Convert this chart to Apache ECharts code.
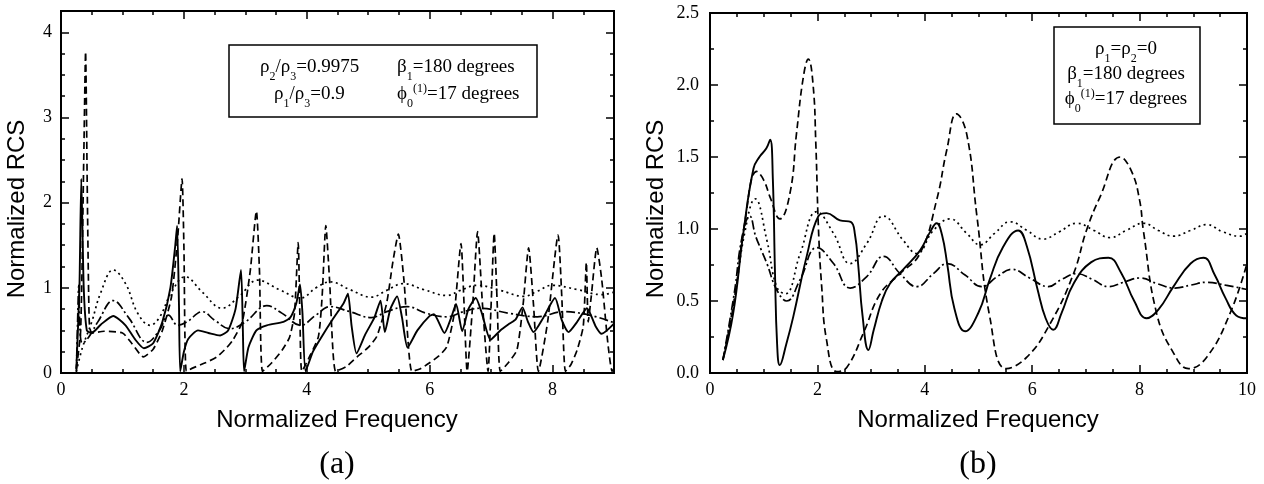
<!DOCTYPE html>
<html lang="en">
<head>
<meta charset="UTF-8">
<title>Normalized RCS</title>
<script src="https://cdn.jsdelivr.net/npm/echarts@6/dist/echarts.min.js"></script>
<style>
html, body { margin: 0; padding: 0; background: #fff; }
#main { width: 1264px; height: 484px; }
</style>
</head>
<body>
<div id="main"></div>
<script>
// panel (a) : [frequency, RCS]
var aSolid = [[0.25,0.05],[0.3,1.0],[0.33,2.28],[0.37,1.0],[0.42,0.5],[0.5,0.47],[0.65,0.57],[0.85,0.67],[1.05,0.56],[1.2,0.4],[1.35,0.29],[1.5,0.35],[1.65,0.6],[1.78,1.0],[1.86,1.5],[1.89,1.73],[1.92,0.8],[1.94,0.02],[2.0,0.25],[2.07,0.4],[2.23,0.5],[2.4,0.47],[2.59,0.44],[2.72,0.5],[2.84,0.75],[2.93,1.21],[2.96,0.5],[2.98,0.02],[3.05,0.3],[3.18,0.5],[3.35,0.56],[3.62,0.6],[3.73,0.65],[3.83,0.82],[3.89,1.04],[3.93,0.7],[3.98,0.02],[4.1,0.25],[4.22,0.4],[4.43,0.64],[4.6,0.82],[4.67,0.93],[4.73,0.55],[4.81,0.23],[4.95,0.45],[5.1,0.65],[5.2,0.85],[5.27,0.48],[5.36,0.75],[5.47,0.9],[5.55,0.65],[5.64,0.3],[5.8,0.5],[6.0,0.67],[6.07,0.69],[6.24,0.47],[6.35,0.65],[6.43,0.81],[6.53,0.49],[6.63,0.75],[6.75,0.88],[6.85,0.7],[6.99,0.39],[7.15,0.5],[7.3,0.58],[7.4,0.63],[7.51,0.77],[7.6,0.6],[7.69,0.48],[7.85,0.65],[8.04,0.88],[8.15,0.62],[8.26,0.48],[8.4,0.6],[8.56,0.76],[8.7,0.55],[8.8,0.46],[9.0,0.58]];
var aDashed = [[0.25,0.05],[0.32,0.5],[0.37,2.5],[0.4,3.77],[0.43,2.0],[0.46,0.6],[0.5,0.47],[0.7,0.49],[1.0,0.47],[1.15,0.35],[1.34,0.19],[1.5,0.28],[1.65,0.5],[1.8,0.9],[1.9,1.6],[1.97,2.28],[2.0,1.5],[2.04,0.02],[2.15,0.06],[2.35,0.12],[2.54,0.19],[2.7,0.3],[2.8,0.39],[2.95,0.6],[3.08,1.2],[3.18,1.9],[3.23,1.2],[3.28,0.02],[3.43,0.12],[3.6,0.27],[3.72,0.42],[3.8,0.7],[3.86,1.53],[3.89,0.6],[3.92,0.02],[4.05,0.2],[4.19,0.43],[4.25,0.9],[4.31,1.73],[4.37,1.1],[4.47,0.02],[4.65,0.08],[4.82,0.19],[5.0,0.3],[5.14,0.43],[5.3,0.82],[5.4,1.3],[5.49,1.63],[5.58,1.1],[5.71,0.02],[5.85,0.05],[6.0,0.12],[6.15,0.2],[6.28,0.31],[6.4,0.7],[6.51,1.52],[6.56,0.8],[6.61,0.02],[6.7,0.8],[6.78,1.66],[6.86,0.8],[6.95,0.02],[7.0,0.8],[7.05,1.64],[7.1,0.8],[7.15,0.02],[7.28,0.12],[7.42,0.27],[7.52,0.8],[7.61,1.47],[7.69,0.8],[7.77,0.02],[7.92,0.6],[8.09,1.62],[8.15,0.9],[8.21,0.02],[8.3,0.1],[8.4,0.27],[8.5,0.55],[8.55,1.3],[8.58,0.6],[8.63,0.9],[8.72,1.47],[8.8,1.1],[8.9,0.35],[8.97,0.02],[9.0,0.05]];
var aDotted = [[0.25,0.02],[0.35,0.3],[0.5,0.6],[0.65,0.95],[0.85,1.21],[1.05,1.05],[1.25,0.7],[1.45,0.56],[1.6,0.65],[1.8,0.95],[2.02,1.13],[2.3,0.95],[2.62,0.76],[2.9,0.9],[3.2,1.09],[3.55,0.98],[3.9,0.88],[4.15,1.0],[4.38,1.07],[4.7,0.98],[5.05,0.89],[5.3,0.97],[5.57,1.05],[5.9,0.98],[6.28,0.91],[6.5,0.97],[6.77,1.03],[7.15,0.97],[7.53,0.9],[7.75,0.96],[7.99,1.03],[8.4,0.98],[8.8,0.92],[9.0,0.95]];
var aDashDot = [[0.25,0.0],[0.27,0.6],[0.29,1.03],[0.31,0.5],[0.35,0.35],[0.45,0.42],[0.6,0.6],[0.85,0.85],[1.1,0.65],[1.4,0.36],[1.6,0.5],[1.75,0.68],[1.9,0.56],[2.05,0.6],[2.3,0.72],[2.5,0.62],[2.75,0.52],[3.0,0.6],[3.35,0.79],[3.6,0.7],[3.9,0.56],[4.15,0.68],[4.38,0.78],[4.7,0.72],[5.05,0.65],[5.3,0.72],[5.63,0.78],[5.95,0.7],[6.28,0.66],[6.55,0.72],[6.82,0.76],[7.3,0.7],[7.75,0.66],[8.18,0.72],[8.6,0.68],[9.0,0.59]];

// panel (b)
var bSolid = [[0.24,0.09],[0.43,0.41],[0.62,0.97],[0.81,1.42],[0.92,1.5],[1.05,1.56],[1.12,1.62],[1.17,1.35],[1.21,0.7],[1.25,0.2],[1.3,0.055],[1.42,0.2],[1.55,0.39],[1.8,0.81],[2.02,1.09],[2.17,1.11],[2.42,1.06],[2.62,1.05],[2.7,0.96],[2.76,0.75],[2.84,0.4],[2.95,0.16],[3.05,0.3],[3.2,0.5],[3.35,0.62],[3.6,0.72],[3.91,0.85],[4.1,0.98],[4.22,1.04],[4.32,0.96],[4.42,0.75],[4.55,0.45],[4.75,0.29],[5.0,0.42],[5.21,0.65],[5.45,0.87],[5.74,0.99],[5.9,0.88],[6.1,0.58],[6.25,0.38],[6.39,0.3],[6.55,0.42],[6.77,0.62],[7.1,0.77],[7.42,0.8],[7.65,0.7],[7.9,0.5],[8.13,0.38],[8.35,0.44],[8.63,0.6],[8.95,0.76],[9.19,0.8],[9.4,0.68],[9.6,0.52],[9.8,0.4],[10,0.38]];
var bDashed = [[0.24,0.09],[0.45,0.5],[0.65,1.05],[0.87,1.4],[1.0,1.34],[1.12,1.22],[1.3,1.07],[1.49,1.25],[1.61,1.66],[1.74,2.06],[1.83,2.18],[1.92,2.0],[1.97,1.6],[2.02,1.0],[2.08,0.6],[2.17,0.23],[2.36,0.01],[2.55,0.04],[2.86,0.28],[3.17,0.55],[3.54,0.69],[3.91,0.83],[4.22,1.2],[4.41,1.55],[4.59,1.8],[4.78,1.66],[4.97,1.09],[5.21,0.39],[5.52,0.03],[5.9,0.11],[6.33,0.34],[6.77,0.69],[7.01,0.99],[7.26,1.22],[7.64,1.5],[7.85,1.4],[8.0,1.2],[8.07,0.99],[8.32,0.41],[8.63,0.14],[8.91,0.03],[9.25,0.11],[9.68,0.41],[10,0.76]];
var bDotted = [[0.24,0.09],[0.45,0.5],[0.65,0.98],[0.84,1.21],[1.06,0.92],[1.24,0.6],[1.4,0.55],[1.68,0.83],[1.99,1.12],[2.3,0.97],[2.61,0.76],[2.92,0.9],[3.23,1.09],[3.6,0.92],[3.85,0.83],[4.16,0.99],[4.47,1.07],[4.78,0.97],[5.03,0.89],[5.3,0.97],[5.59,1.05],[5.9,0.99],[6.2,0.93],[6.5,0.98],[6.83,1.04],[7.15,0.99],[7.45,0.94],[7.75,0.99],[8.07,1.04],[8.35,0.99],[8.63,0.95],[8.95,0.99],[9.25,1.03],[9.55,0.98],[9.87,0.95],[10,0.97]];
var bDashDot = [[0.24,0.09],[0.45,0.55],[0.6,0.95],[0.74,1.09],[0.85,0.95],[0.96,0.85],[1.06,0.76],[1.24,0.58],[1.43,0.5],[1.68,0.65],[1.99,0.87],[2.3,0.76],[2.61,0.59],[2.92,0.67],[3.23,0.81],[3.54,0.69],[3.85,0.6],[4.16,0.69],[4.42,0.76],[4.75,0.68],[5.06,0.6],[5.35,0.67],[5.62,0.72],[5.95,0.66],[6.3,0.6],[6.55,0.65],[6.83,0.69],[7.12,0.65],[7.42,0.6],[7.7,0.63],[8.01,0.66],[8.33,0.62],[8.66,0.59],[8.95,0.61],[9.25,0.63],[9.6,0.61],[10,0.58]];

// tick labels
var aXTicks = [0, 2, 4, 6, 8];
var aYTicks = [0, 1, 2, 3, 4];
var bXTicks = [0, 2, 4, 6, 8, 10];
var bYTicks = [0, 0.5, 1, 1.5, 2, 2.5];

var serif = 'Liberation Serif';
var sans = 'Liberation Sans';

// four axes per direction: labelled major, minor, and the mirrored pair on the far side
function boxAxes(grid, min, max, major, minor, horizontal, ticks, fmt, margin) {
    var sides = horizontal ? ['bottom', 'top'] : ['left', 'right'];
    var list = [];
    sides.forEach(function (pos, s) {
        [major, minor].forEach(function (step, k) {
            list.push({
                type: 'value', gridIndex: grid, position: pos,
                min: min, max: max, interval: step,
                axisLine: { show: false, onZero: false },
                axisTick: { show: true, inside: true, length: k ? 4 : 8,
                    lineStyle: { color: '#000', width: 1.5 } },
                axisLabel: {
                    show: s === 0 && k === 0, margin: margin,
                    color: '#000', fontFamily: serif, fontSize: 18,
                    showMinLabel: true, showMaxLabel: true,
                    formatter: function (v) {
                        for (var i = 0; i < ticks.length; i++) {
                            if (Math.abs(ticks[i] - v) < 1e-6) return fmt(ticks[i]);
                        }
                        return '';
                    }
                },
                splitLine: { show: false }
            });
        });
    });
    return list;
}

function plain(v) { return String(v); }
function oneDec(v) { return v.toFixed(1); }

function curve(data, grid, dash, width, smooth) {
    return {
        type: 'line', data: data,
        xAxisIndex: grid * 4, yAxisIndex: grid * 4,
        showSymbol: false, symbol: 'none',
        smooth: smooth,
        lineStyle: { color: '#000', width: width, type: dash },
        silent: true
    };
}

var dashed = [7, 4], dotted = [2, 3.5], dashDot = [9, 3, 2, 3];

var richBase = {
    n: { fontFamily: serif, fontSize: 19, lineHeight: 30, color: '#000' },
    s: { fontFamily: serif, fontSize: 12, verticalAlign: 'bottom', color: '#000' },
    p: { fontFamily: serif, fontSize: 12, verticalAlign: 'top', padding: [3, 0, 0, 0], color: '#000' }
};

function label(x, y, txt, align) {
    return {
        type: 'text', x: x, y: y, z: 20,
        style: { text: txt, rich: richBase, align: align, textAlign: align,
            verticalAlign: 'middle', textVerticalAlign: 'middle',
            fontFamily: serif, fontSize: 19, fill: '#000' }
    };
}

function plainText(x, y, txt, family, size, rot) {
    return {
        type: 'text', x: x, y: y, rotation: rot || 0, z: 20,
        style: { text: txt, fontFamily: family, fontSize: size, fill: '#000',
            align: 'center', textAlign: 'center',
            verticalAlign: 'middle', textVerticalAlign: 'middle' }
    };
}

var myChart = echarts.init(document.getElementById('main'), null, { renderer: 'canvas' });

var option = {
    animation: false,
    backgroundColor: '#fff',
    grid: [
        { left: 61, top: 11, width: 553, height: 362, show: true, borderColor: '#000', borderWidth: 2,
          backgroundColor: 'transparent', containLabel: false, outerBoundsMode: 'none' },
        { left: 710, top: 13, width: 537, height: 360, show: true, borderColor: '#000', borderWidth: 2,
          backgroundColor: 'transparent', containLabel: false, outerBoundsMode: 'none' }
    ],
    xAxis: boxAxes(0, 0, 9, 2, 0.5, true, aXTicks, plain, 8)
        .concat(boxAxes(1, 0, 10, 2, 0.5, true, bXTicks, plain, 8)),
    yAxis: boxAxes(0, 0, 4.25, 1, 0.25, false, aYTicks, plain, 9)
        .concat(boxAxes(1, 0, 2.5, 0.5, 0.25, false, bYTicks, oneDec, 11)),
    series: [
        curve(aDotted, 0, dotted, 1.7, 0.4),
        curve(aDashDot, 0, dashDot, 1.7, 0.4),
        curve(aDashed, 0, dashed, 1.7, 0.2),
        curve(aSolid, 0, 'solid', 1.9, 0.2),
        curve(bDotted, 1, dotted, 1.7, 0.45),
        curve(bDashDot, 1, dashDot, 1.7, 0.45),
        curve(bDashed, 1, dashed, 1.7, 0.45),
        curve(bSolid, 1, 'solid', 1.9, 0.45)
    ],
    graphic: [
        { type: 'rect', shape: { x: 229, y: 45, width: 308, height: 72 }, z: 15,
          style: { fill: '#fff', stroke: '#000', lineWidth: 1.5 } },
        label(260, 67.5, '{n|ρ}{s|2}{n|/ρ}{s|3}{n|=0.9975}', 'left'),
        label(397, 67.5, '{n|β}{s|1}{n|=180 degrees}', 'left'),
        label(274, 94.5, '{n|ρ}{s|1}{n|/ρ}{s|3}{n|=0.9}', 'left'),
        label(397, 94.5, '{n|ϕ}{s|0}{p|(1)}{n|=17 degrees}', 'left'),

        { type: 'rect', shape: { x: 1054, y: 27, width: 146, height: 97 }, z: 15,
          style: { fill: '#fff', stroke: '#000', lineWidth: 1.5 } },
        label(1126, 49.5, '{n|ρ}{s|1}{n|=ρ}{s|2}{n|=0}', 'center'),
        label(1126, 74.5, '{n|β}{s|1}{n|=180 degrees}', 'center'),
        label(1126, 99.5, '{n|ϕ}{s|0}{p|(1)}{n|=17 degrees}', 'center'),

        plainText(17, 209, 'Normalized RCS', sans, 24, Math.PI / 2),
        plainText(656, 209, 'Normalized RCS', sans, 24, Math.PI / 2),
        plainText(337, 420, 'Normalized Frequency', sans, 24),
        plainText(978, 420, 'Normalized Frequency', sans, 24),
        plainText(337, 465, '(a)', serif, 32),
        plainText(978, 465, '(b)', serif, 32)
    ]
};

myChart.setOption(option);
</script>
</body>
</html>
